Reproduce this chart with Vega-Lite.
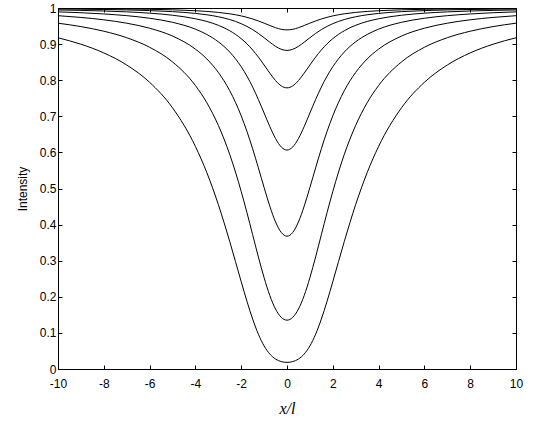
{
  "$schema": "https://vega.github.io/schema/vega-lite/v6.json",
  "width": 458,
  "height": 361,
  "autosize": "none",
  "padding": {"left": 58, "top": 8, "right": 34, "bottom": 52},
  "background": "white",
  "config": {
    "view": {"stroke": "black", "strokeWidth": 1},
    "axis": {"grid": false, "domainColor": "black", "tickColor": "black", "labelColor": "black", "titleColor": "black", "labelFont": "Liberation Sans", "labelFontSize": 12, "tickSize": -4, "labelFlush": false}
  },
  "datasets": {
    "curves": [
      {"s":1,"x":-10,"y":0.9175},{"s":1,"x":-9,"y":0.8997},{"s":1,"x":-8,"y":0.8756},{"s":1,"x":-7,"y":0.8421},{"s":1,"x":-6,"y":0.7942},{"s":1,"x":-5,"y":0.7236},{"s":1,"x":-4,"y":0.6166},{"s":1,"x":-3.5,"y":0.5439},{"s":1,"x":-3,"y":0.4558},{"s":1,"x":-2.5,"y":0.3529},{"s":1,"x":-2,"y":0.2419},{"s":1,"x":-1.75,"y":0.1878},{"s":1,"x":-1.5,"y":0.1384},{"s":1,"x":-1.25,"y":0.0964},{"s":1,"x":-1,"y":0.0639},{"s":1,"x":-0.75,"y":0.0414},{"s":1,"x":-0.5,"y":0.0276},{"s":1,"x":-0.25,"y":0.0205},{"s":1,"x":0,"y":0.0183},{"s":1,"x":0.25,"y":0.0205},{"s":1,"x":0.5,"y":0.0276},{"s":1,"x":0.75,"y":0.0414},{"s":1,"x":1,"y":0.0639},{"s":1,"x":1.25,"y":0.0964},{"s":1,"x":1.5,"y":0.1384},{"s":1,"x":1.75,"y":0.1878},{"s":1,"x":2,"y":0.2419},{"s":1,"x":2.5,"y":0.3529},{"s":1,"x":3,"y":0.4558},{"s":1,"x":3.5,"y":0.5439},{"s":1,"x":4,"y":0.6166},{"s":1,"x":5,"y":0.7236},{"s":1,"x":6,"y":0.7942},{"s":1,"x":7,"y":0.8421},{"s":1,"x":8,"y":0.8756},{"s":1,"x":9,"y":0.8997},{"s":1,"x":10,"y":0.9175},
      {"s":2,"x":-10,"y":0.9579},{"s":2,"x":-9,"y":0.9485},{"s":2,"x":-8,"y":0.9357},{"s":2,"x":-7,"y":0.9177},{"s":2,"x":-6,"y":0.8912},{"s":2,"x":-5,"y":0.8507},{"s":2,"x":-4,"y":0.7853},{"s":2,"x":-3.5,"y":0.7375},{"s":2,"x":-3,"y":0.6751},{"s":2,"x":-2.5,"y":0.5941},{"s":2,"x":-2,"y":0.4918},{"s":2,"x":-1.75,"y":0.4334},{"s":2,"x":-1.5,"y":0.3720},{"s":2,"x":-1.25,"y":0.3105},{"s":2,"x":-1,"y":0.2529},{"s":2,"x":-0.75,"y":0.2034},{"s":2,"x":-0.5,"y":0.1660},{"s":2,"x":-0.25,"y":0.1430},{"s":2,"x":0,"y":0.1353},{"s":2,"x":0.25,"y":0.1430},{"s":2,"x":0.5,"y":0.1660},{"s":2,"x":0.75,"y":0.2034},{"s":2,"x":1,"y":0.2529},{"s":2,"x":1.25,"y":0.3105},{"s":2,"x":1.5,"y":0.3720},{"s":2,"x":1.75,"y":0.4334},{"s":2,"x":2,"y":0.4918},{"s":2,"x":2.5,"y":0.5941},{"s":2,"x":3,"y":0.6751},{"s":2,"x":3.5,"y":0.7375},{"s":2,"x":4,"y":0.7853},{"s":2,"x":5,"y":0.8507},{"s":2,"x":6,"y":0.8912},{"s":2,"x":7,"y":0.9177},{"s":2,"x":8,"y":0.9357},{"s":2,"x":9,"y":0.9485},{"s":2,"x":10,"y":0.9579},
      {"s":3,"x":-10,"y":0.9787},{"s":3,"x":-9,"y":0.9739},{"s":3,"x":-8,"y":0.9673},{"s":3,"x":-7,"y":0.9579},{"s":3,"x":-6,"y":0.9440},{"s":3,"x":-5,"y":0.9223},{"s":3,"x":-4,"y":0.8861},{"s":3,"x":-3.5,"y":0.8588},{"s":3,"x":-3,"y":0.8217},{"s":3,"x":-2.5,"y":0.7708},{"s":3,"x":-2,"y":0.7013},{"s":3,"x":-1.75,"y":0.6583},{"s":3,"x":-1.5,"y":0.6100},{"s":3,"x":-1.25,"y":0.5573},{"s":3,"x":-1,"y":0.5028},{"s":3,"x":-0.75,"y":0.4510},{"s":3,"x":-0.5,"y":0.4074},{"s":3,"x":-0.25,"y":0.3782},{"s":3,"x":0,"y":0.3679},{"s":3,"x":0.25,"y":0.3782},{"s":3,"x":0.5,"y":0.4074},{"s":3,"x":0.75,"y":0.4510},{"s":3,"x":1,"y":0.5028},{"s":3,"x":1.25,"y":0.5573},{"s":3,"x":1.5,"y":0.6100},{"s":3,"x":1.75,"y":0.6583},{"s":3,"x":2,"y":0.7013},{"s":3,"x":2.5,"y":0.7708},{"s":3,"x":3,"y":0.8217},{"s":3,"x":3.5,"y":0.8588},{"s":3,"x":4,"y":0.8861},{"s":3,"x":5,"y":0.9223},{"s":3,"x":6,"y":0.9440},{"s":3,"x":7,"y":0.9579},{"s":3,"x":8,"y":0.9673},{"s":3,"x":9,"y":0.9739},{"s":3,"x":10,"y":0.9787},
      {"s":4,"x":-10,"y":0.9893},{"s":4,"x":-9,"y":0.9869},{"s":4,"x":-8,"y":0.9835},{"s":4,"x":-7,"y":0.9788},{"s":4,"x":-6,"y":0.9716},{"s":4,"x":-5,"y":0.9604},{"s":4,"x":-4,"y":0.9414},{"s":4,"x":-3.5,"y":0.9267},{"s":4,"x":-3,"y":0.9065},{"s":4,"x":-2.5,"y":0.8779},{"s":4,"x":-2,"y":0.8374},{"s":4,"x":-1.75,"y":0.8114},{"s":4,"x":-1.5,"y":0.7810},{"s":4,"x":-1.25,"y":0.7465},{"s":4,"x":-1,"y":0.7091},{"s":4,"x":-0.75,"y":0.6715},{"s":4,"x":-0.5,"y":0.6383},{"s":4,"x":-0.25,"y":0.6150},{"s":4,"x":0,"y":0.6065},{"s":4,"x":0.25,"y":0.6150},{"s":4,"x":0.5,"y":0.6383},{"s":4,"x":0.75,"y":0.6715},{"s":4,"x":1,"y":0.7091},{"s":4,"x":1.25,"y":0.7465},{"s":4,"x":1.5,"y":0.7810},{"s":4,"x":1.75,"y":0.8114},{"s":4,"x":2,"y":0.8374},{"s":4,"x":2.5,"y":0.8779},{"s":4,"x":3,"y":0.9065},{"s":4,"x":3.5,"y":0.9267},{"s":4,"x":4,"y":0.9414},{"s":4,"x":5,"y":0.9604},{"s":4,"x":6,"y":0.9716},{"s":4,"x":7,"y":0.9788},{"s":4,"x":8,"y":0.9835},{"s":4,"x":9,"y":0.9869},{"s":4,"x":10,"y":0.9893},
      {"s":5,"x":-10,"y":0.9946},{"s":5,"x":-9,"y":0.9934},{"s":5,"x":-8,"y":0.9917},{"s":5,"x":-7,"y":0.9893},{"s":5,"x":-6,"y":0.9857},{"s":5,"x":-5,"y":0.9800},{"s":5,"x":-4,"y":0.9702},{"s":5,"x":-3.5,"y":0.9627},{"s":5,"x":-3,"y":0.9521},{"s":5,"x":-2.5,"y":0.9370},{"s":5,"x":-2,"y":0.9151},{"s":5,"x":-1.75,"y":0.9008},{"s":5,"x":-1.5,"y":0.8837},{"s":5,"x":-1.25,"y":0.8640},{"s":5,"x":-1,"y":0.8421},{"s":5,"x":-0.75,"y":0.8195},{"s":5,"x":-0.5,"y":0.7989},{"s":5,"x":-0.25,"y":0.7842},{"s":5,"x":0,"y":0.7788},{"s":5,"x":0.25,"y":0.7842},{"s":5,"x":0.5,"y":0.7989},{"s":5,"x":0.75,"y":0.8195},{"s":5,"x":1,"y":0.8421},{"s":5,"x":1.25,"y":0.8640},{"s":5,"x":1.5,"y":0.8837},{"s":5,"x":1.75,"y":0.9008},{"s":5,"x":2,"y":0.9151},{"s":5,"x":2.5,"y":0.9370},{"s":5,"x":3,"y":0.9521},{"s":5,"x":3.5,"y":0.9627},{"s":5,"x":4,"y":0.9702},{"s":5,"x":5,"y":0.9800},{"s":5,"x":6,"y":0.9857},{"s":5,"x":7,"y":0.9893},{"s":5,"x":8,"y":0.9917},{"s":5,"x":9,"y":0.9934},{"s":5,"x":10,"y":0.9946},
      {"s":6,"x":-10,"y":0.9973},{"s":6,"x":-9,"y":0.9967},{"s":6,"x":-8,"y":0.9959},{"s":6,"x":-7,"y":0.9947},{"s":6,"x":-6,"y":0.9928},{"s":6,"x":-5,"y":0.9899},{"s":6,"x":-4,"y":0.9850},{"s":6,"x":-3.5,"y":0.9812},{"s":6,"x":-3,"y":0.9758},{"s":6,"x":-2.5,"y":0.9680},{"s":6,"x":-2,"y":0.9566},{"s":6,"x":-1.75,"y":0.9491},{"s":6,"x":-1.5,"y":0.9401},{"s":6,"x":-1.25,"y":0.9295},{"s":6,"x":-1,"y":0.9177},{"s":6,"x":-0.75,"y":0.9053},{"s":6,"x":-0.5,"y":0.8938},{"s":6,"x":-0.25,"y":0.8856},{"s":6,"x":0,"y":0.8825},{"s":6,"x":0.25,"y":0.8856},{"s":6,"x":0.5,"y":0.8938},{"s":6,"x":0.75,"y":0.9053},{"s":6,"x":1,"y":0.9177},{"s":6,"x":1.25,"y":0.9295},{"s":6,"x":1.5,"y":0.9401},{"s":6,"x":1.75,"y":0.9491},{"s":6,"x":2,"y":0.9566},{"s":6,"x":2.5,"y":0.9680},{"s":6,"x":3,"y":0.9758},{"s":6,"x":3.5,"y":0.9812},{"s":6,"x":4,"y":0.9850},{"s":6,"x":5,"y":0.9899},{"s":6,"x":6,"y":0.9928},{"s":6,"x":7,"y":0.9947},{"s":6,"x":8,"y":0.9959},{"s":6,"x":9,"y":0.9967},{"s":6,"x":10,"y":0.9973},
      {"s":7,"x":-10,"y":0.9987},{"s":7,"x":-9,"y":0.9984},{"s":7,"x":-8,"y":0.9979},{"s":7,"x":-7,"y":0.9973},{"s":7,"x":-6,"y":0.9964},{"s":7,"x":-5,"y":0.9950},{"s":7,"x":-4,"y":0.9925},{"s":7,"x":-3.5,"y":0.9905},{"s":7,"x":-3,"y":0.9878},{"s":7,"x":-2.5,"y":0.9839},{"s":7,"x":-2,"y":0.9781},{"s":7,"x":-1.75,"y":0.9742},{"s":7,"x":-1.5,"y":0.9696},{"s":7,"x":-1.25,"y":0.9641},{"s":7,"x":-1,"y":0.9580},{"s":7,"x":-0.75,"y":0.9515},{"s":7,"x":-0.5,"y":0.9454},{"s":7,"x":-0.25,"y":0.9410},{"s":7,"x":0,"y":0.9394},{"s":7,"x":0.25,"y":0.9410},{"s":7,"x":0.5,"y":0.9454},{"s":7,"x":0.75,"y":0.9515},{"s":7,"x":1,"y":0.9580},{"s":7,"x":1.25,"y":0.9641},{"s":7,"x":1.5,"y":0.9696},{"s":7,"x":1.75,"y":0.9742},{"s":7,"x":2,"y":0.9781},{"s":7,"x":2.5,"y":0.9839},{"s":7,"x":3,"y":0.9878},{"s":7,"x":3.5,"y":0.9905},{"s":7,"x":4,"y":0.9925},{"s":7,"x":5,"y":0.9950},{"s":7,"x":6,"y":0.9964},{"s":7,"x":7,"y":0.9973},{"s":7,"x":8,"y":0.9979},{"s":7,"x":9,"y":0.9984},{"s":7,"x":10,"y":0.9987}
    ]
  },
  "data": {"name": "curves"},
  "layer": [
    {
      "mark": {"type": "line", "interpolate": "monotone", "color": "black", "strokeWidth": 1, "clip": true},
      "encoding": {
        "x": {"field": "x", "type": "quantitative", "scale": {"domain": [-10, 10], "nice": false},
          "axis": {"orient": "bottom", "values": [-10, -8, -6, -4, -2, 0, 2, 4, 6, 8, 10], "labelExpr": "'' + datum.value", "labelPadding": 13, "title": "x/l", "titleFont": "Liberation Serif", "titleFontStyle": "italic", "titleFontWeight": "normal", "titleFontSize": 16, "titlePadding": 11}},
        "y": {"field": "y", "type": "quantitative", "scale": {"domain": [0, 1], "nice": false},
          "axis": {"orient": "left", "values": [0, 0.1, 0.2, 0.3, 0.4, 0.5, 0.6, 0.7, 0.8, 0.9, 1], "format": "~g", "labelPadding": 6, "title": "Intensity", "titleFont": "Liberation Sans", "titleFontWeight": "normal", "titleFontSize": 12, "titlePadding": 10}},
        "detail": {"field": "s"}
      }
    },
    {
      "mark": {"type": "line", "strokeOpacity": 0},
      "encoding": {
        "x": {"field": "x", "type": "quantitative", "axis": {"orient": "top", "values": [-10, -8, -6, -4, -2, 0, 2, 4, 6, 8, 10], "labels": false, "title": null, "domain": false}},
        "y": {"field": "y", "type": "quantitative", "axis": {"orient": "right", "values": [0, 0.1, 0.2, 0.3, 0.4, 0.5, 0.6, 0.7, 0.8, 0.9, 1], "labels": false, "title": null, "domain": false}},
        "detail": {"field": "s"}
      }
    }
  ],
  "resolve": {"axis": {"x": "independent", "y": "independent"}}
}
